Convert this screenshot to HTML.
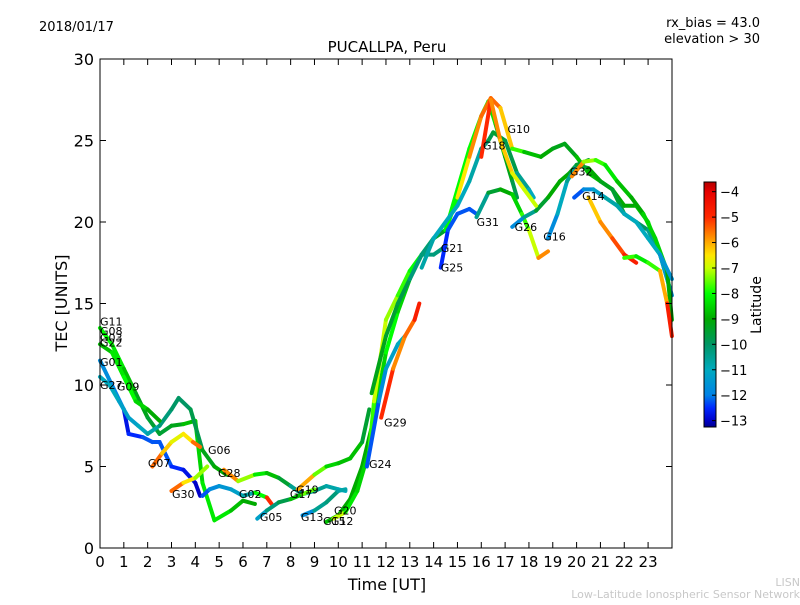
<!DOCTYPE html>
<html><head><meta charset="utf-8"><style>
body{margin:0;background:#fff;}
svg text{font-family:"DejaVu Sans","Liberation Sans",sans-serif;}
</style></head><body>
<svg id="chart" width="800" height="600" xmlns="http://www.w3.org/2000/svg">
<rect width="800" height="600" fill="#fff"/>
<text x="39" y="31" font-size="13">2018/01/17</text>
<text x="387" y="52" font-size="15" text-anchor="middle">PUCALLPA, Peru</text>
<text x="760" y="27" font-size="13" text-anchor="end">rx_bias = 43.0</text>
<text x="760" y="43" font-size="13" text-anchor="end">elevation &gt; 30</text>
<g id="tracks"></g>
<g id="labels"></g>
<rect x="100" y="59" width="572" height="489" fill="none" stroke="#000" stroke-width="1"/>
<g id="axes"></g>
<text transform="translate(67,303) rotate(-90)" font-size="16" text-anchor="middle">TEC [UNITS]</text>
<text x="387" y="590" font-size="16" text-anchor="middle">Time [UT]</text>
<defs><linearGradient id="jet" x1="0" y1="1" x2="0" y2="0"></linearGradient></defs>
<g id="cbar"></g>
<text transform="translate(761,305) rotate(-90)" font-size="14" text-anchor="middle">Latitude</text>
<text x="800" y="586" font-size="11" fill="#c8c8c8" text-anchor="end">LISN</text>
<text x="800" y="598" font-size="11" fill="#c8c8c8" text-anchor="end">Low-Latitude Ionospheric Sensor Network</text>
</svg>
<script>
// chart data
const xTicks=[0,1,2,3,4,5,6,7,8,9,10,11,12,13,14,15,16,17,18,19,20,21,22,23];
const yTicks=[0,5,10,15,20,25,30];
const cbTicks=[-4,-5,-6,-7,-8,-9,-10,-11,-12,-13];
const satNames=["G11","G08","G03","G22","G01","G27","G09","G07","G30","G06","G28","G02","G05","G17","G19","G13","G20","G15","G12","G24","G29","G21","G25","G18","G10","G31","G26","G16","G32","G14"];
const labelTimes=[0,0,0,0,0,0,0.71,2.01,3.02,4.53,4.95,5.83,6.71,7.97,8.23,8.43,9.82,9.36,9.69,11.29,11.92,14.3,14.3,16.07,17.1,15.8,17.4,18.6,19.72,20.23];
const labelTec=[13.9,13.3,12.9,12.6,11.4,10.0,9.9,5.2,3.3,6.0,4.6,3.3,1.9,3.3,3.6,1.9,2.3,1.65,1.65,5.15,7.7,18.4,17.2,24.7,25.7,20.0,19.7,19.1,23.1,21.6];
// tracks: time, tec, latitude
const trackTimes=[
[0,0.5,1,1.5,2,2.5,3,3.5,4,4.3,4.8,5.5,6,6.5],
[0,0.5,1,1.2,1.8,2.2,2.5,3,3.5,4,4.2],
[0,0.4,0.8,1.2,1.6,2,2.5,3,3.3,3.8,4.3,4.8,5.3],
[0,0.5,1,1.5,2,2.5],
[2.2,2.6,3,3.5,3.9,4.2],
[3,3.5,4,4.5],
[4.3,4.6,5,5.5,6,6.5,7,7.2],
[5.2,5.8,6.5,7,7.5,8,8.5,9,9.5,10,10.3],
[6.6,7,7.5,8,8.5,9],
[8.3,9,9.5,10,10.5,11,11.3],
[8.5,9,9.5,10,10.3],
[9.5,10,10.5,11,11.5,12,12.5,13,13.5,14,14.5],
[9.8,10.3,10.8,11.3,11.5,12,12.5,13,13.5,14,14.5,15,15.5,16,16.3,16.6,17,17.3,17.5],
[11.2,11.7,12,12.5,12.8],
[11.8,12.3,12.8,13.2,13.4],
[11.4,12,12.5,13,13.5,14,14.5,15,15.5,16,16.4,16.8,17.3,17.8,18.5,19,19.5,20,20.5,21,21.5,22,22.5,23,23.5,23.9],
[13.5,14,15,15.5,16,16.3,16.5,17,17.5,18,18.2],
[14.3,14.6,15,15.5,15.8],
[15.8,16.3,16.8,17.3,17.7,18,18.4,18.8],
[17.3,17.8,18.3,18.8,19.3,19.7,20,20.5],
[18.8,19.2,19.6,20,20.5,21,21.5,22,22.5,23,23.5,24],
[19.8,20.3,20.8,21.2,21.7,22.3,22.8,23.3,23.8,24],
[19.9,20.3,20.7,21.2,21.7,22,22.5,23,23.5,24],
[20.5,21,21.5,22,22.5],
[22,22.5,23,23.5,23.8,24],
[16,16.4,16.8,17.3,17.8,18.3]
];
const trackTec=[
[13.5,12.5,11,9.5,8,7,7.5,7.6,7.8,4,1.7,2.3,2.9,2.7],
[11.5,10,8.5,7,6.8,6.5,6.5,5,4.8,4,3.2],
[10.5,10,9,8,7.5,7,7.5,8.5,9.2,8.5,6,5,4.5],
[12.5,12,10.5,9,8.5,7.8],
[5,5.8,6.5,7,6.5,6.2],
[3.5,4,4.3,5],
[3.2,3.6,3.8,3.6,3.2,3.4,3.1,2.7],
[4.8,4.1,4.5,4.6,4.3,3.8,3.3,3.5,3.8,3.6,3.5],
[1.8,2.3,2.8,3.0,3.3,3.6],
[3.6,4.5,5.0,5.2,5.5,6.5,8.5],
[2,2.3,2.8,3.5,3.6],
[1.6,2,3,5,8,12,14.5,16.5,18,18,18.5],
[1.8,2.2,3.5,6,9,14,15.5,17,18,19,19.5,22,24.5,26.5,27.4,26,24,22.5,21.5],
[5,9,11,12.5,13],
[8,11,13,14,15],
[9.5,13,15,16.5,18,19,19.5,21.5,24,26.5,27.6,27,24.5,24.3,24,24.5,24.8,24,23,22.5,22,21,21,20,18,16],
[17.2,19,21,22.5,24.5,25,25.5,25,23,22,21.5],
[17.2,19.5,20.5,20.8,20.5],
[20.3,21.8,22,21.7,20.5,19.5,17.8,18.2],
[19.7,20.3,20.7,21.5,22.5,23,23.5,23.8],
[19,20.5,22.5,23.5,23.3,22.5,22,20.5,20,19.5,18,15.5],
[22.8,23.7,23.8,23.5,22.5,21.5,20.5,19,17,14],
[21.5,22,22,21.5,21,20.5,20,19,18,16.5],
[21.5,20,19,18,17.5],
[17.8,17.9,17.5,17,15,13],
[24,27.5,25,23,22,21]
];
const trackLat=[
[-8,-8,-8.5,-9,-9.5,-9.5,-9.5,-9,-8.5,-8.5,-8,-8.5,-9,-9],
[-12,-11.5,-12.5,-13,-12,-12.5,-12,-12.5,-12.5,-13,-13],
[-11,-11,-11,-11.5,-11,-11,-10.5,-10,-10,-10,-9.5,-9,-9],
[-9,-8.5,-8,-8,-9,-9],
[-5,-6,-6.5,-7,-6,-5],
[-5,-6,-7,-7.5],
[-12.5,-12,-11.5,-11.5,-11,-10.5,-5.5,-4.5],
[-5,-6.5,-8,-8.5,-9,-10,-11,-10.5,-10.5,-11,-11],
[-12,-10.5,-10,-9.5,-8,-7],
[-5,-7,-8,-9,-8.5,-9,-10],
[-12.5,-11,-10,-10.5,-11],
[-8.5,-9,-9,-9,-9,-8,-8,-9,-10,-10.5,-10],
[-6,-8,-8.5,-8.5,-7,-7,-7.5,-8,-8,-8,-8,-8,-8,-8,-8,-8.5,-9,-9.5,-10],
[-12.5,-12,-11.5,-11,-11],
[-4.5,-5.5,-6,-5,-4.5],
[-9,-9.5,-9.5,-10,-10.5,-10,-9,-7,-6,-5.5,-5.5,-5.5,-7,-8.5,-9,-9,-9.5,-9,-8.5,-9,-9,-9,-9,-8.5,-8,-9],
[-10.5,-11,-11,-11,-10.5,-10,-9.5,-9.5,-10,-11,-11],
[-12.5,-12.5,-12,-12.5,-12],
[-11,-10,-9,-9,-8,-7.5,-6.5,-5],
[-12.5,-11,-10,-9,-9,-9,-9.5,-9.5],
[-12.5,-11,-11,-10,-9,-9,-9.5,-9.5,-10,-10,-11,-12],
[-4.5,-7,-7.5,-8,-8.5,-9,-9,-8,-9,-9],
[-12.5,-12,-11.5,-11,-10.5,-11,-11,-11,-11,-12],
[-6.5,-6,-5.5,-5,-4.5],
[-7.5,-8,-8.5,-7,-5,-4.5],
[-4.5,-5.5,-6,-6.5,-7,-7]
];
const latMin=-13.25, latMax=-3.62;
// colormap stops (latitude -> rgb)
const cmapLat=[-13.25,-13,-12.5,-12,-11,-10,-9,-8,-7,-6.5,-6,-5,-4,-3.62];
const cmapRGB=[[0,0,140],[0,0,200],[0,40,255],[0,130,230],[0,170,190],[0,150,100],[0,170,0],[0,255,0],[200,255,0],[255,230,0],[255,170,0],[255,40,0],[230,0,0],[180,0,0]];
function xs(t){return 100+t*23.83;}
function ys(v){return 548-v*16.3;}
function cy(l){return 427-(l-latMin)/(latMax-latMin)*245;}
function cmap(l){
  l=Math.max(latMin,Math.min(latMax,l));
  for(let i=0;i<cmapLat.length-1;i++){
    if(l<=cmapLat[i+1]){
      const f=(l-cmapLat[i])/(cmapLat[i+1]-cmapLat[i]);
      const c=cmapRGB[i].map((a,k)=>Math.round(a+(cmapRGB[i+1][k]-a)*f));
      return `rgb(${c[0]},${c[1]},${c[2]})`;
    }
  }
  return 'rgb(180,0,0)';
}
const NS='http://www.w3.org/2000/svg';
function mk(tag,attrs,parent){const e=document.createElementNS(NS,tag);for(const k in attrs)e.setAttribute(k,attrs[k]);parent.appendChild(e);return e;}
const grad=document.getElementById('jet');
cmapLat.forEach((l,i)=>{
  mk('stop',{offset:(l-latMin)/(latMax-latMin),'stop-color':`rgb(${cmapRGB[i].join(',')})`},grad);
});
const tg=document.getElementById('tracks');
trackTimes.forEach((ts,i)=>{
  const g=mk('g',{},tg);
  
  
  for(let j=0;j<ts.length-1;j++){
    const seg=mk('line',{x1:xs(ts[j]),y1:ys(trackTec[i][j]),x2:xs(ts[j+1]),y2:ys(trackTec[i][j+1]),stroke:cmap((trackLat[i][j]+trackLat[i][j+1])/2),'stroke-width':4,'stroke-linecap':'round'},g);
    
    
  }
});
const lg=document.getElementById('labels');
satNames.forEach((n,i)=>{
  const t=mk('text',{x:xs(labelTimes[i]),y:ys(labelTec[i])+4,'font-size':11},lg);
  t.textContent=n;
  
  
});
const ax=document.getElementById('axes');
xTicks.forEach(v=>{
  const x=xs(v);
  mk('line',{x1:x,y1:548,x2:x,y2:542,stroke:'#000'},ax);
  mk('line',{x1:x,y1:59,x2:x,y2:65,stroke:'#000'},ax);
  const t=mk('text',{x:x,y:567,'font-size':15,'text-anchor':'middle'},ax);
  t.textContent=v;
  
  
});
yTicks.forEach(v=>{
  const y=ys(v);
  mk('line',{x1:100,y1:y,x2:106,y2:y,stroke:'#000'},ax);
  mk('line',{x1:672,y1:y,x2:666,y2:y,stroke:'#000'},ax);
  const t=mk('text',{x:94,y:y+6,'font-size':16,'text-anchor':'end'},ax);
  t.textContent=v;
  
  
});
const cb=document.getElementById('cbar');
mk('rect',{x:704,y:182,width:12,height:245,fill:'url(#jet)',stroke:'#000','stroke-width':1},cb);
cbTicks.forEach(v=>{
  const y=cy(v);
  mk('line',{x1:716,y1:y,x2:712,y2:y,stroke:'#000'},cb);
  const t=mk('text',{x:720,y:y+5,'font-size':13},cb);
  t.textContent='\u2212'+Math.abs(v);
  
  
});
</script>
</body></html>
